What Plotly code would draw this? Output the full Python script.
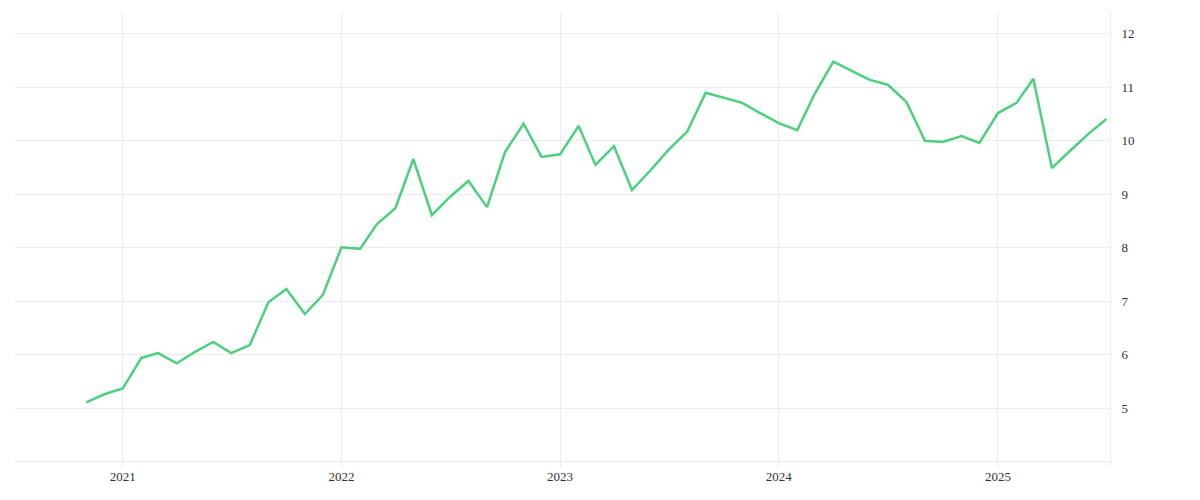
import plotly.graph_objects as go
import pandas as pd

dates = pd.date_range("2020-11-01", "2025-07-01", freq="MS")
values = [5.11, 5.26, 5.37, 5.94, 6.03, 5.84, 6.05, 6.24, 6.03, 6.18, 6.98, 7.23, 6.76, 7.12,
          8.01, 7.98, 8.44, 8.74, 9.66, 8.61, 8.95, 9.25, 8.76, 9.79, 10.32, 9.70,
          9.75, 10.28, 9.55, 9.90, 9.08, 9.45, 9.83, 10.17, 10.90, 10.80, 10.71, 10.52,
          10.33, 10.20, 10.88, 11.48, 11.31, 11.14, 11.05, 10.73, 10.00, 9.98, 10.09, 9.96,
          10.52, 10.71, 11.16, 9.49, 9.81, 10.13, 10.41]
yticks = [4, 5, 6, 7, 8, 9, 10, 11, 12]
yticktext = ["", "5", "6", "7", "8", "9", "10", "11", "12"]

fig = go.Figure(go.Scatter(x=dates, y=values, mode="lines",
                           line=dict(color="#4cd07d", width=2.5)))
fig.update_layout(
    width=1184, height=484, plot_bgcolor="white", paper_bgcolor="white",
    margin=dict(l=7, r=82, t=4, b=25), showlegend=False,
    font=dict(family="Liberation Serif, serif", size=13, color="#333"),
    xaxis=dict(range=["2020-07-05", "2025-07-07"], showgrid=True, gridcolor="#ececec",
               dtick="M12", tickformat="%Y", zeroline=False, showline=False),
    yaxis=dict(side="right", range=[3.9, 12.41], tickvals=yticks, ticktext=yticktext,
               showgrid=True, gridcolor="#ececec", zeroline=False, showline=True,
               linecolor="#ececec", ticks="", ticklabelstandoff=8),
)
fig.write_html("out.html")
